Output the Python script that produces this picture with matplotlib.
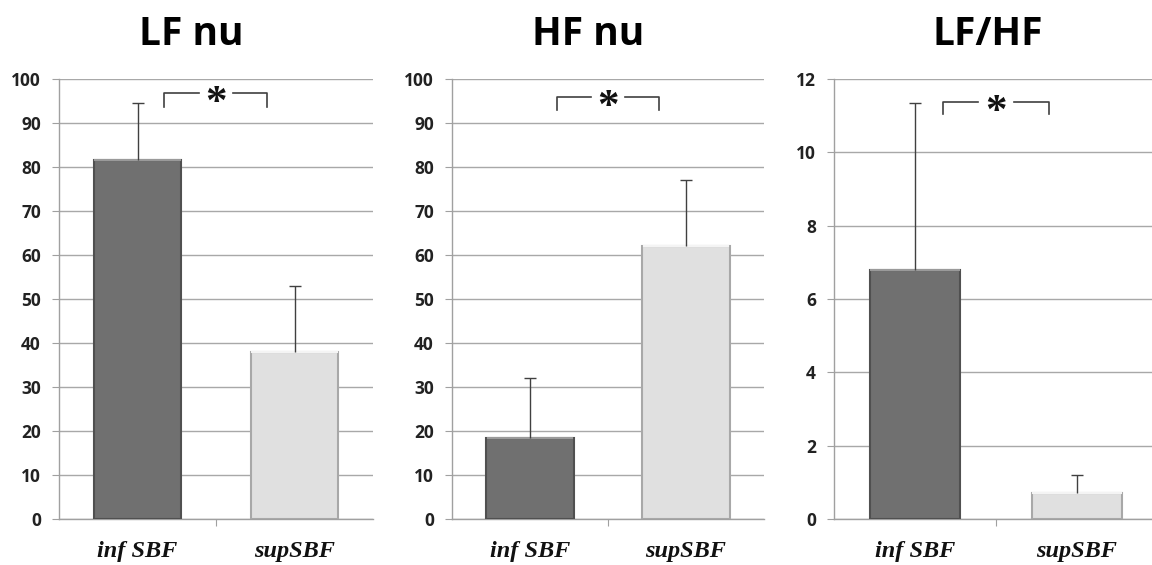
import matplotlib.pyplot as plt
from matplotlib.transforms import offset_copy

# data
groups = ['inf SBF', 'supSBF']
titles = ['LF nu', 'HF nu', 'LF/HF']
means = [[81.5, 38.0], [18.5, 62.0], [6.8, 0.7]]
errs = [[13.0, 15.0], [13.5, 15.0], [4.55, 0.5]]
ymax = [100, 100, 12]
ysteps = [10, 10, 2]
brackets = [[96.8, 93.6], [96.0, 93.0], [11.38, 11.05]]  # bracket top / bottom

W, H = 1152, 565
fig = plt.figure(figsize=(W / 100, H / 100), dpi=100)

# axes boxes in pixels: left, right
boxes = [(59, 373), (452, 764), (834, 1158)]
title_x = [191, 588, 988]
top_px, bot_px = 79, 519

bar_colors = ['#707070', '#e0e0e0']
edge_colors = ['#505050', '#a8a8a8']

for i in range(3):
    l, r = boxes[i]
    ax = fig.add_axes([l / W, 1 - bot_px / H, (r - l) / W, (bot_px - top_px) / H])
    x = [0, 1]
    ax.bar(x, means[i], width=0.56, color=bar_colors, edgecolor=edge_colors,
           linewidth=1.5, zorder=3)
    # light strip on bar tops
    for j in range(2):
        ax.plot([x[j] - 0.27, x[j] + 0.27], [means[i][j], means[i][j]],
                color='#9a9a9a' if j == 0 else '#f4f4f4', lw=1.5, zorder=4)
        # upper error bar only
        top = means[i][j] + errs[i][j]
        ax.vlines(x[j], means[i][j], top, color='#404040', lw=1, zorder=5)
        ax.plot(x[j], top, marker='_', ms=8, mew=1, color='#404040', zorder=5)

    ax.set_xlim(-0.5, 1.5)
    ax.set_ylim(0, ymax[i])
    ax.set_yticks(range(0, ymax[i] + 1, ysteps[i]))
    ax.yaxis.grid(True, color='#a8a8a8', lw=1)
    ax.set_axisbelow(True)
    for s in ['top', 'right']:
        ax.spines[s].set_visible(False)
    for s in ['left', 'bottom']:
        ax.spines[s].set_color('#a0a0a0')
        ax.spines[s].set_linewidth(1)
    ax.tick_params(axis='y', length=5, color='#a0a0a0', pad=8)
    for t in ax.get_yticklabels():
        t.set_fontfamily('Open Sans')
        t.set_fontweight('bold')
        t.set_fontsize(12.5)
        t.set_color('#222222')

    ax.set_xticks([0.5])
    ax.set_xticklabels([''])
    ax.tick_params(axis='x', length=5, color='#a0a0a0')
    for j in range(2):
        ax.text(x[j], -0.05 * ymax[i], groups[j], ha='center', va='top',
                fontfamily='Liberation Serif', fontweight='bold', fontstyle='italic',
                fontsize=17.5, color='#111111', clip_on=False)

    # significance bracket
    yt, yb = brackets[i]
    bx0, bx1 = 0.17, 0.825
    kw = dict(color='#404040', lw=1.2, zorder=6)
    ax.plot([bx0, bx0, 0.39], [yb, yt, yt], **kw)
    ax.plot([0.61, bx1, bx1], [yt, yt, yb], **kw)
    tr = offset_copy(ax.transData, fig=fig, x=0, y=-8, units='points')
    ax.text(0.5, yt, '*', ha='center', va='center', fontfamily='Liberation Serif',
            fontweight='bold', fontsize=31, color='#111111', zorder=6, transform=tr)

    fig.text(title_x[i] / W, 1 - 45 / H, titles[i], ha='center', va='baseline',
             fontfamily='Open Sans', fontweight='bold', fontsize=28, color='black')

fig.savefig('out.png', dpi=100)
